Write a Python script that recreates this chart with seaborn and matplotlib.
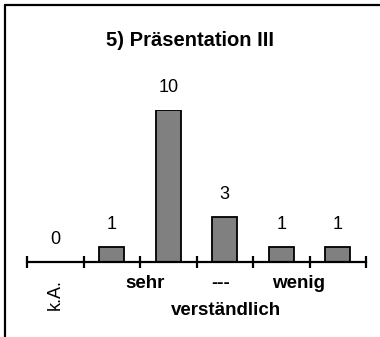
import matplotlib
matplotlib.use("Agg")
import matplotlib.pyplot as plt
from matplotlib.lines import Line2D
import pandas as pd
import seaborn as sns

# Survey answers for question 5
categories = ["k.A.", "1", "2", "3", "4", "5"]
counts = [0, 1, 10, 3, 1, 1]
tick_labels = ["k.A.", "", "", "", "", ""]
scale_words = ["sehr", "---", "wenig"]
scale_positions = [1.59, 2.92, 4.30]
axis_caption = "verständlich"
title = "5) Präsentation III"

sns.set_style("white")
plt.rcParams["font.family"] = ["Liberation Sans", "DejaVu Sans"]
plt.rcParams["text.color"] = "black"
plt.rcParams["xtick.color"] = "black"

df = pd.DataFrame({"Antwort": categories, "Anzahl": counts})

fig = plt.figure(figsize=(3.8, 3.37), dpi=100)
ax = fig.add_axes([0.0711, 0.2211, 0.8921, 0.4525])

sns.barplot(data=df, x="Antwort", y="Anzahl", order=categories,
            color="#808080", saturation=1, width=0.45,
            edgecolor="black", linewidth=1.3, ax=ax)

ax.set_xlim(-0.5, len(categories) - 0.5)
ax.set_ylim(0, 10)

for side in ("left", "right", "top"):
    ax.spines[side].set_visible(False)
ax.spines["bottom"].set_linewidth(1.6)
ax.spines["bottom"].set_color("black")

# category boundaries carry the tick marks, centers carry the labels
ax.set_xticks([i - 0.5 for i in range(len(categories) + 1)], minor=True)
ax.set_xticks(range(len(categories)))
ax.set_xticklabels(tick_labels, rotation=90, fontsize=13, color="black")
ax.tick_params(axis="x", which="minor", direction="inout", length=9,
               width=1.6, color="black", bottom=True)
ax.tick_params(axis="x", which="major", length=0, pad=12)
ax.set_yticks([])
ax.set_xlabel("")
ax.set_ylabel("")

# value labels above each bar
for i, v in enumerate(counts):
    ax.annotate(str(v), xy=(i, v), xytext=(0, 13), textcoords="offset points",
                ha="center", va="baseline", fontsize=13, color="black")

for word, xpos in zip(scale_words, scale_positions):
    ax.text(xpos, -1.67, word, ha="center", va="baseline",
            fontsize=13.5, fontweight="bold", color="black")
ax.text(3.02, -3.44, axis_caption, ha="center", va="baseline",
        fontsize=13.5, fontweight="bold", color="black")

fig.text(0.5, 1 - 46.5 / 337, title, ha="center", va="baseline",
         fontsize=14.5, fontweight="bold", color="black")

# outer frame along the top and left edges
fig.add_artist(Line2D([4.5 / 380, 1.0], [1 - 4.5 / 337, 1 - 4.5 / 337],
                      transform=fig.transFigure, color="black", linewidth=1.6))
fig.add_artist(Line2D([4.5 / 380, 4.5 / 380], [0.0, 1 - 4.5 / 337],
                      transform=fig.transFigure, color="black", linewidth=1.6))

fig.savefig("out.png", dpi=100)
